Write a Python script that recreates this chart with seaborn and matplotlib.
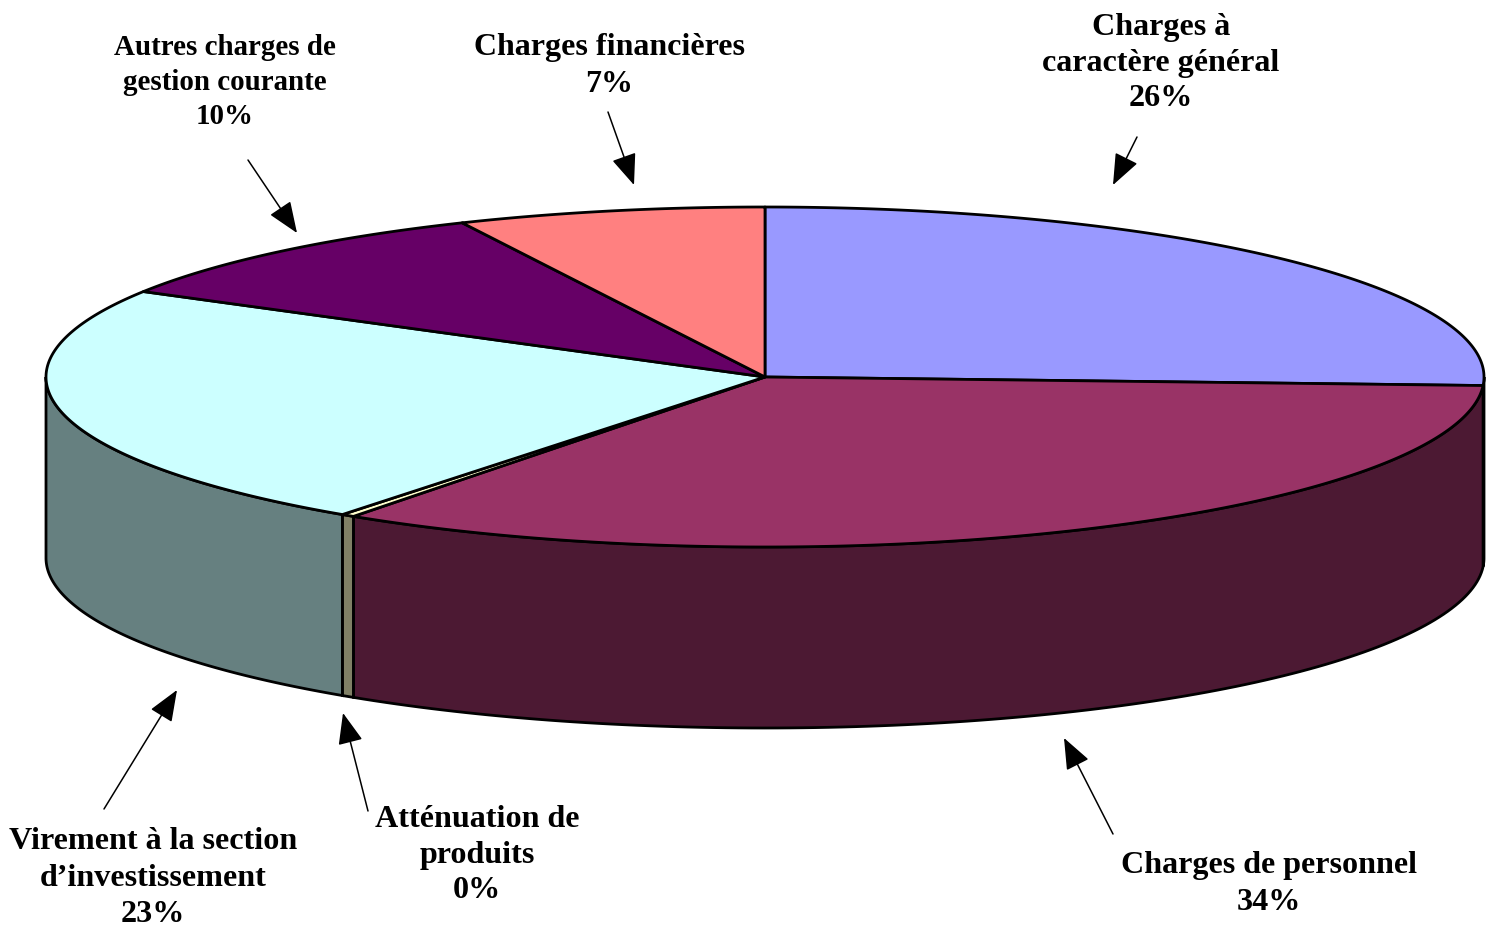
"""3D-looking pie of budget charges, drawn as polygons on a pixel-sized axes."""
import matplotlib.pyplot as plt
import numpy as np
import seaborn as sns
from matplotlib.patches import Polygon

labels = [
    "Charges à\ncaractère général\n26%",
    "Charges de personnel\n34%",
    "Atténuation de\nproduits\n0%",
    "Virement à la section\nd’investissement\n23%",
    "Autres charges de\ngestion courante\n10%",
    "Charges financières\n7%",
]
shares = [25.8, 33.9, 0.3, 23.38, 9.7, 6.92]
top_colors = ["#9999FF", "#993366", "#FFFFCC", "#CCFFFF", "#660066", "#FF8080"]
side_colors = ["#4C4C80", "#4C1933", "#808066", "#668080", "#330033", "#804040"]

# label centre, font size, line spacing, arrow start, arrow tip
label_pos = [(1161, 63), (1269, 884), (477, 855), (153, 878), (225, 82), (609, 66)]
label_size = [23.1, 23.1, 23.1, 23.1, 20.9, 23]
label_spacing = [1.31, 1.38, 1.31, 1.33, 1.34, 1.38]
arrow_from = [(1137, 137), (1113, 834), (368, 811), (104, 809), (248, 160), (608, 112)]
arrow_to = [(1113, 185), (1064, 738), (343, 713), (177, 690), (297, 233), (634, 185)]

CX, CY, A, B, DEPTH = 765, 377, 719, 170, 181
LINE = 2.0


def ellipse(theta, drop=0):
    """Pixel points on the pie rim for angles in degrees (counter-clockwise)."""
    rad = np.radians(theta)
    return np.column_stack([CX + A * np.cos(rad), CY - B * np.sin(rad) + drop])


sns.set_theme(style="white")
plt.rcParams["font.family"] = ["Liberation Serif", "DejaVu Serif"]

fig, ax = plt.subplots(figsize=(14.92, 9.27), dpi=100)
ax.set_position([0, 0, 1, 1])
ax.set_xlim(0, 1492)
ax.set_ylim(927, 0)
ax.axis("off")

fractions = np.array(shares) / sum(shares)
edges = 90 - 360 * np.concatenate([[0], np.cumsum(fractions)])

# outer wall: only the front half of the rim (angles -180 to 0)
for start, end, color in zip(edges[:-1], edges[1:], side_colors):
    for shift in (0, -360):
        hi, lo = min(start + shift, 0), max(end + shift, -180)
        if hi <= lo:
            continue
        theta = np.linspace(hi, lo, 120)
        points = np.vstack([ellipse(theta), ellipse(theta[::-1], DEPTH)])
        ax.add_patch(Polygon(points, facecolor=color, edgecolor="black", linewidth=LINE, zorder=2))

# top face
for start, end, color in zip(edges[:-1], edges[1:], top_colors):
    theta = np.linspace(start, end, 200)
    points = np.vstack([[CX, CY], ellipse(theta)])
    ax.add_patch(Polygon(points, facecolor=color, edgecolor="black", linewidth=LINE, zorder=3,
                         joinstyle="round"))

for text, pos, size, spacing, src, tip in zip(labels, label_pos, label_size, label_spacing,
                                              arrow_from, arrow_to):
    ax.text(*pos, text, ha="center", va="center", fontsize=size, fontweight="bold",
            color="black", linespacing=spacing)
    ax.annotate("", xy=tip, xytext=src,
                arrowprops=dict(arrowstyle="-|>,head_length=1.5,head_width=0.6", color="black",
                                linewidth=1.1, shrinkA=0, shrinkB=0, mutation_scale=13))

fig.savefig("out.png", dpi=100)
